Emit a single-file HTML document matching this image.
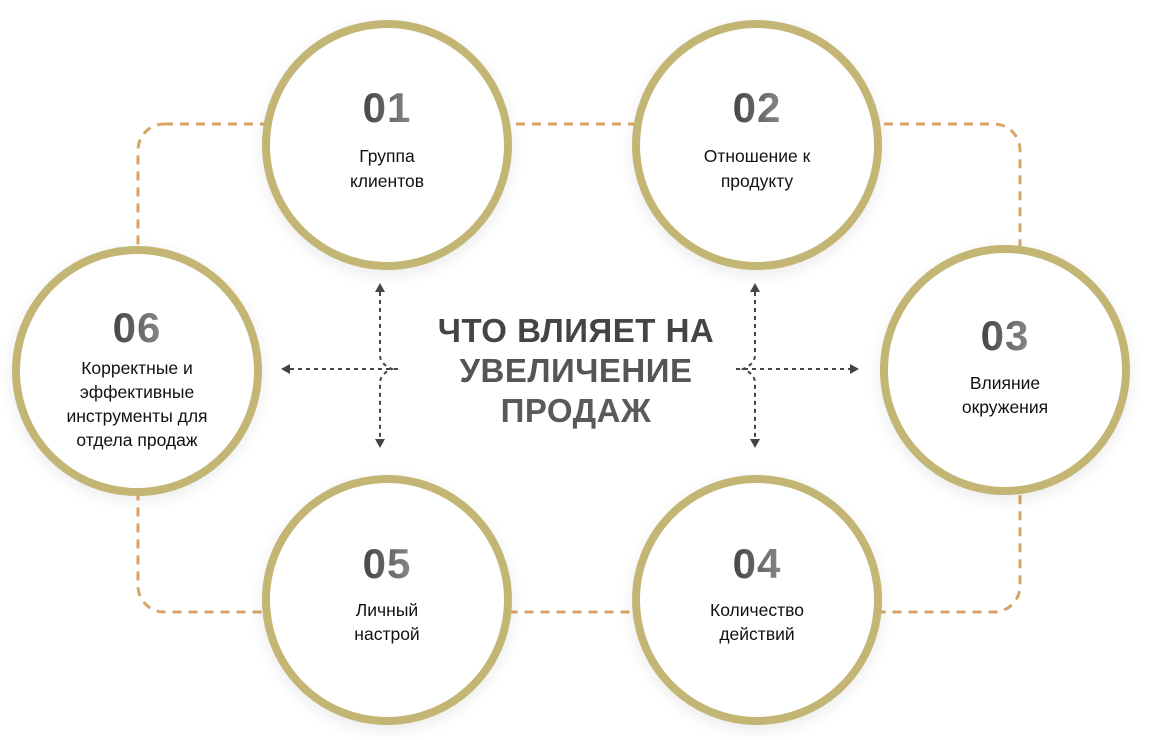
<!DOCTYPE html>
<html><head><meta charset="utf-8"><style>
html,body{margin:0;padding:0;background:#fff;width:1150px;height:740px;overflow:hidden}
svg text{font-family:"Liberation Sans",sans-serif}
</style></head><body>
<svg width="1150" height="740" viewBox="0 0 1150 740" xmlns="http://www.w3.org/2000/svg">
<defs>
<filter id="sh" x="-20%" y="-20%" width="140%" height="140%"><feGaussianBlur stdDeviation="8"/></filter>
<linearGradient id="ng" x1="0" x2="1"><stop offset="0" stop-color="#444"/><stop offset="1" stop-color="#888"/></linearGradient>
</defs>
<rect x="138" y="124" width="882" height="488" rx="26" fill="none" stroke="#d9a46a" stroke-width="3" stroke-dasharray="9 7"/>
<g fill="#000" opacity="0.08" filter="url(#sh)">
<circle cx="387" cy="150" r="125"/><circle cx="757" cy="150" r="125"/><circle cx="1005" cy="375" r="125"/>
<circle cx="137" cy="375" r="125"/><circle cx="387" cy="605" r="125"/><circle cx="757" cy="605" r="125"/>
</g>
<g fill="#fff" stroke="#c3b574" stroke-width="8">
<circle cx="387" cy="145" r="121"/><circle cx="757" cy="145" r="121"/><circle cx="1005" cy="370" r="121"/>
<circle cx="137" cy="371" r="121"/><circle cx="387" cy="600" r="121"/><circle cx="757" cy="600" r="121"/>
</g>
<g font-weight="bold" font-size="42" fill="url(#ng)" text-anchor="middle" letter-spacing="1">
<text x="387" y="122">01</text><text x="757" y="122">02</text><text x="1005" y="350">03</text>
<text x="757" y="578">04</text><text x="387" y="578">05</text><text x="137" y="342">06</text>
</g>
<g font-size="17.5" fill="#111" text-anchor="middle">
<text x="387" y="162">Группа</text><text x="387" y="187">клиентов</text>
<text x="757" y="162">Отношение к</text><text x="757" y="187">продукту</text>
<text x="1005" y="389">Влияние</text><text x="1005" y="413">окружения</text>
<text x="757" y="616">Количество</text><text x="757" y="640">действий</text>
<text x="387" y="616">Личный</text><text x="387" y="640">настрой</text>
<text x="137" y="374">Корректные и</text><text x="137" y="398">эффективные</text><text x="137" y="422">инструменты для</text><text x="137" y="446">отдела продаж</text>
</g>
<g font-weight="bold" font-size="33" text-anchor="middle" fill="#444" letter-spacing="0.5">
<text x="576" y="342">ЧТО ВЛИЯЕТ НА</text>
<text x="576" y="382" fill="#555">УВЕЛИЧЕНИЕ</text>
<text x="576" y="422" fill="#5a5a5a">ПРОДАЖ</text>
</g>
<g fill="none" stroke="#444" stroke-width="2" stroke-dasharray="4 4">
<path d="M380 292 V355 Q380 364 392 369 Q380 374 380 383 V440"/>
<path d="M290 369 H402"/>
<path d="M755 292 V355 Q755 364 743 369 Q755 374 755 383 V440"/>
<path d="M736 369 H850"/>
</g>
<g fill="#444">
<path d="M380 283 l-5 9 h10z"/><path d="M380 448 l-5 -9 h10z"/>
<path d="M281 369 l9 -5 v10z"/>
<path d="M755 283 l-5 9 h10z"/><path d="M755 448 l-5 -9 h10z"/>
<path d="M859 369 l-9 -5 v10z"/>
</g>
</svg>
</body></html>
